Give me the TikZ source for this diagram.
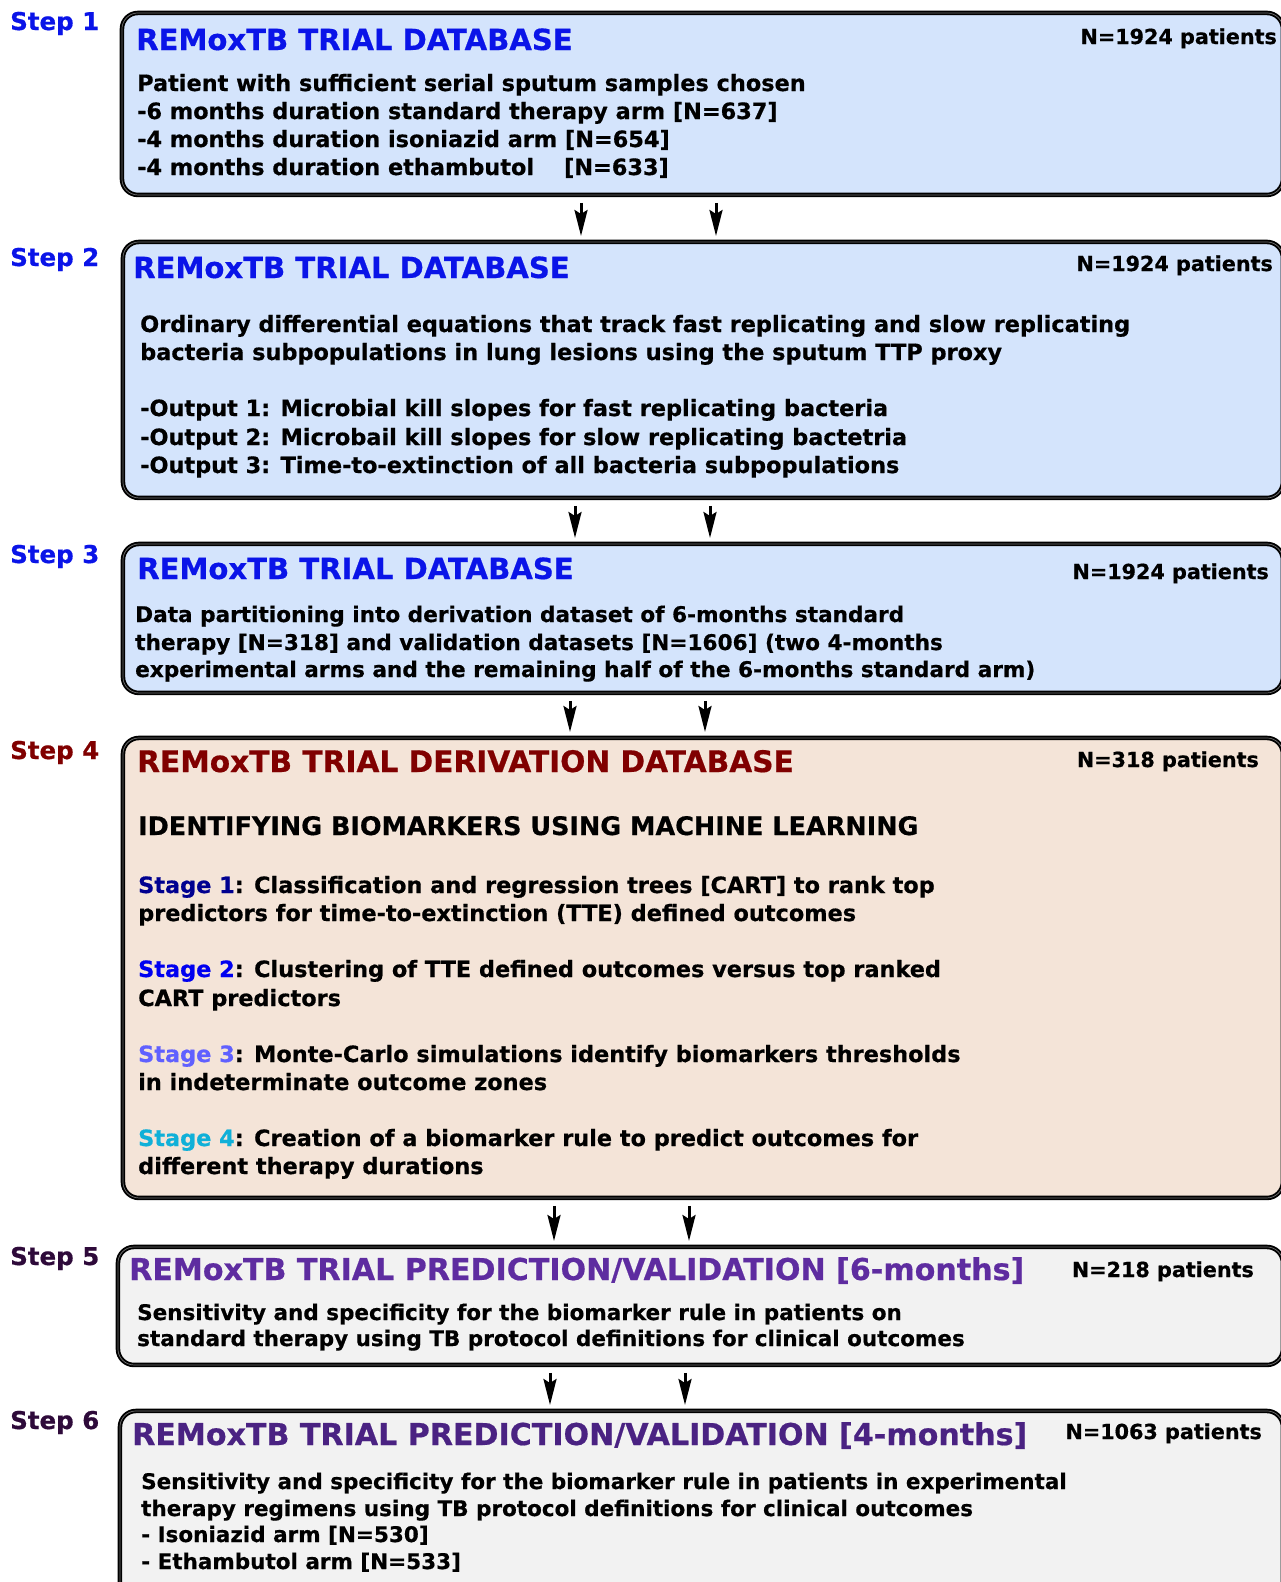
\documentclass[tikz,border=0pt]{standalone}
\usepackage{fontspec}
\setmainfont{DejaVu Sans}[BoldFeatures={FakeBold=0.6}]
\usetikzlibrary{arrows.meta}
\definecolor{fillblue}{HTML}{D4E4FC}
\definecolor{fillpeach}{HTML}{F4E4D8}
\definecolor{fillgray}{HTML}{F2F2F2}
\definecolor{titleblue}{HTML}{0A14E8}
\definecolor{darkred}{HTML}{800000}
\definecolor{steppurple}{HTML}{2E0A3A}
\definecolor{purpleA}{HTML}{5E2CA0}
\definecolor{purpleB}{HTML}{4A2282}
\definecolor{stageA}{HTML}{000090}
\definecolor{stageB}{HTML}{0000F0}
\definecolor{stageC}{HTML}{6060FF}
\definecolor{stageD}{HTML}{10B0D8}
\begin{document}
\begin{tikzpicture}[x=1pt,y=-1pt,
  box/.style={draw=black, line width=1.9pt, double=black!55, double distance=0.7pt,
    rounded corners=16pt, inner sep=0pt, anchor=north west},
  txt/.style={anchor=base west, inner sep=0pt, font=\bfseries\fontsize{22.4}{28}\selectfont},
  txtc/.style={anchor=base west, inner sep=0pt, font=\bfseries\fontsize{21.6}{28}\selectfont},
  txts/.style={anchor=base west, inner sep=0pt, font=\bfseries\fontsize{21.5}{28}\selectfont},
  hdr/.style={anchor=base west, inner sep=0pt, font=\bfseries\fontsize{25.5}{30}\selectfont},
  ttl/.style={anchor=base west, inner sep=0pt, font=\bfseries\fontsize{29.1}{34}\selectfont},
  ttlb/.style={anchor=base west, inner sep=0pt, font=\bfseries\fontsize{29.65}{34}\selectfont},
  ttlc/.style={anchor=base west, inner sep=0pt, font=\bfseries\fontsize{30.1}{34}\selectfont},
  nn/.style={anchor=base east, inner sep=0pt, font=\bfseries\fontsize{20.7}{24}\selectfont},
  steplbl/.style={anchor=base west, inner sep=0pt, font=\bfseries\fontsize{24.5}{28}\selectfont},
  arr/.style={line width=3pt, -{Stealth[length=26pt,width=13pt,inset=4pt]}, shorten <=7pt, shorten >=5pt}
]
\useasboundingbox (0,0) rectangle (1281,1582);
\clip (0,0) rectangle (1281,1582);

% boxes
\node[box, fill=fillblue, minimum width=1161pt, minimum height=182pt] (b1) at (121,12) {};
\node[box, fill=fillblue, minimum width=1160pt, minimum height=256pt] (b2) at (122,241) {};
\node[box, fill=fillblue, minimum width=1160pt, minimum height=149pt] (b3) at (122,543) {};
\node[box, fill=fillpeach, minimum width=1160pt, minimum height=460pt] (b4) at (122,737) {};
\node[box, fill=fillgray, minimum width=1165pt, minimum height=118pt] (b5) at (117,1246) {};
\node[box, fill=fillgray, minimum width=1163pt, minimum height=190pt] (b6) at (119,1410) {};

% step labels
\node[steplbl, text=titleblue] (s1) at (10,30) {Step 1};
\node[steplbl, text=titleblue] (s2) at (10,266) {Step 2};
\node[steplbl, text=titleblue] (s3) at (10,563) {Step 3};
\node[steplbl, text=darkred] (s4) at (10,759) {Step 4};
\node[steplbl, text=steppurple] (s5) at (10,1265) {Step 5};
\node[steplbl, text=steppurple] (s6) at (10,1429) {Step 6};

% box 1
\node[ttl, text=titleblue] (t1) at (136,50) {REMoxTB TRIAL DATABASE};
\node[nn] (n1) at (1277,44) {N=1924 patients};
\node[txt] (l1a) at (137,91) {Patient with sufficient serial sputum samples chosen};
\node[txt] (l1b) at (137,119) {-6 months duration standard therapy arm [N=637]};
\node[txt] (l1c) at (137,147) {-4 months duration isoniazid arm [N=654]};
\node[txt] (l1d) at (137,175) {-4 months duration ethambutol\hspace{30pt}[N=633]};

% box 2
\node[ttl, text=titleblue] (t2) at (133,278) {REMoxTB TRIAL DATABASE};
\node[nn] (n2) at (1273,271) {N=1924 patients};
\node[txt] (l2a) at (140,332) {Ordinary differential equations that track fast replicating and slow replicating};
\node[txt] (l2b) at (140,360) {bacteria subpopulations in lung lesions using the sputum TTP proxy};
\node[txt] (l2c) at (140,416) {-Output 1: Microbial kill slopes for fast replicating bacteria};
\node[txt] (l2d) at (140,445) {-Output 2: Microbail kill slopes for slow replicating bactetria};
\node[txt] (l2e) at (140,473) {-Output 3: Time-to-extinction of all bacteria subpopulations};

% box 3
\node[ttl, text=titleblue] (t3) at (137,579) {REMoxTB TRIAL DATABASE};
\node[nn] (n3) at (1269,579) {N=1924 patients};
\node[txtc] (l3a) at (135,622) {Data partitioning into derivation dataset of 6-months standard};
\node[txtc] (l3b) at (135,650) {therapy [N=318] and validation datasets [N=1606] (two 4-months};
\node[txtc] (l3c) at (135,677) {experimental arms and the remaining half of the 6-months standard arm)};

% box 4
\node[ttlb, text=darkred] (t4) at (137,772) {REMoxTB TRIAL DERIVATION DATABASE};
\node[nn] (n4) at (1259,767) {N=318 patients};
\node[hdr] (l4a) at (138,835) {IDENTIFYING BIOMARKERS USING MACHINE LEARNING};
\node[txt] (l4b) at (138,893) {\textcolor{stageA}{Stage 1}: Classification and regression trees [CART] to rank top};
\node[txt] (l4c) at (138,921) {predictors for time-to-extinction (TTE) defined outcomes};
\node[txt] (l4d) at (138,977) {\textcolor{stageB}{Stage 2}: Clustering of TTE defined outcomes versus top ranked};
\node[txt] (l4e) at (138,1006) {CART predictors};
\node[txt] (l4f) at (138,1062) {\textcolor{stageC}{Stage 3}: Monte-Carlo simulations identify biomarkers thresholds};
\node[txt] (l4g) at (138,1090) {in indeterminate outcome zones};
\node[txt] (l4h) at (138,1146) {\textcolor{stageD}{Stage 4}: Creation of a biomarker rule to predict outcomes for};
\node[txt] (l4i) at (138,1174) {different therapy durations};

% box 5
\node[ttlc, text=purpleA] (t5) at (129,1280) {REMoxTB TRIAL PREDICTION/VALIDATION [6-months]};
\node[nn] (n5) at (1254,1277) {N=218 patients};
\node[txts] (l5a) at (137,1320) {Sensitivity and specificity for the biomarker rule in patients on};
\node[txts] (l5b) at (137,1346) {standard therapy using TB protocol definitions for clinical outcomes};

% box 6
\node[ttlc, text=purpleB] (t6) at (132,1445) {REMoxTB TRIAL PREDICTION/VALIDATION [4-months]};
\node[nn] (n6) at (1262,1439) {N=1063 patients};
\node[txts] (l6a) at (141,1489) {Sensitivity and specificity for the biomarker rule in patients in experimental};
\node[txts] (l6b) at (141,1516) {therapy regimens using TB protocol definitions for clinical outcomes};
\node[txts] (l6c) at (141,1542) {- Isoniazid arm [N=530]};
\node[txts] (l6d) at (141,1569) {- Ethambutol arm [N=533]};

% arrow columns
\coordinate (p1a) at (581,0); \coordinate (p1b) at (716,0);
\coordinate (p2a) at (575,0); \coordinate (p2b) at (710,0);
\coordinate (p3a) at (570,0); \coordinate (p3b) at (705,0);
\coordinate (p4a) at (554,0); \coordinate (p4b) at (689,0);
\coordinate (p5a) at (550,0); \coordinate (p5b) at (685,0);

\draw[arr] (b1.south -| p1a) -- (b2.north -| p1a);
\draw[arr] (b1.south -| p1b) -- (b2.north -| p1b);
\draw[arr] (b2.south -| p2a) -- (b3.north -| p2a);
\draw[arr] (b2.south -| p2b) -- (b3.north -| p2b);
\draw[arr] (b3.south -| p3a) -- (b4.north -| p3a);
\draw[arr] (b3.south -| p3b) -- (b4.north -| p3b);
\draw[arr] (b4.south -| p4a) -- (b5.north -| p4a);
\draw[arr] (b4.south -| p4b) -- (b5.north -| p4b);
\draw[arr] (b5.south -| p5a) -- (b6.north -| p5a);
\draw[arr] (b5.south -| p5b) -- (b6.north -| p5b);
\end{tikzpicture}
\end{document}
